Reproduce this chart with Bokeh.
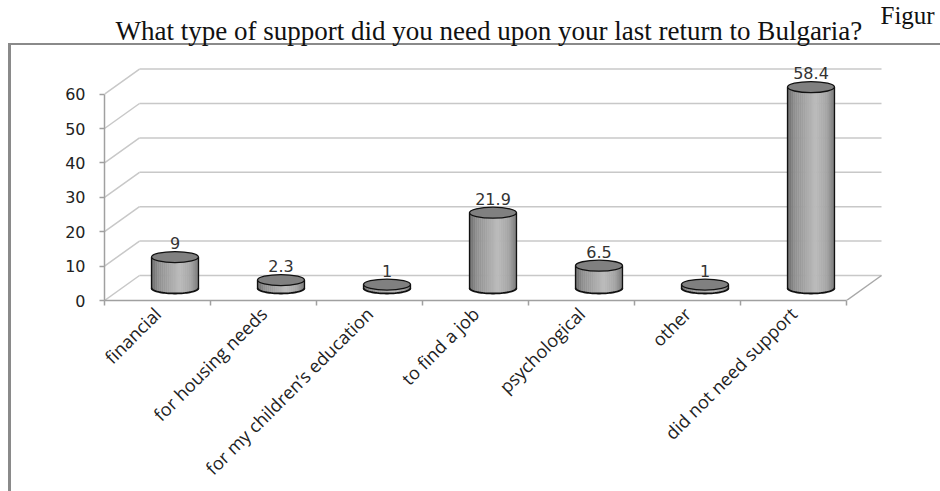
import numpy as np
from bokeh.plotting import figure
from bokeh.models import Range1d, FixedTicker
from bokeh.embed import file_html
from bokeh.resources import INLINE
from bokeh.core.properties import value

# ---------------- data ----------------
title_text = "What type of support did you need upon your last return to Bulgaria?"
corner_text = "Figur"
categories = ["financial", "for housing needs", "for my children\u2019s education",
              "to find a job", "psychological", "other", "did not need support"]
values = [9, 2.3, 1, 21.9, 6.5, 1, 58.4]
value_labels = ["9", "2.3", "1", "21.9", "6.5", "1", "58.4"]
y_ticks = [0, 10, 20, 30, 40, 50, 60]

# ---------------- geometry (pixels -> data units) ----------------
W, H = 940, 491
PX_X = 106.0          # pixels per category
PX_Y = 3.44           # pixels per value unit
FRAME_L, FRAME_R, FRAME_T, FRAME_B = 104, 940, 0, 300
x_end = (FRAME_R - FRAME_L) / PX_X
y_end = (FRAME_B - FRAME_T) / PX_Y
DX = 35 / PX_X        # depth offset (x)
DY = 25 / PX_Y        # depth offset (y)
n = len(categories)


def px_x(px):
    return (px - FRAME_L) / PX_X


def px_y(py):
    return (FRAME_B - py) / PX_Y


p = figure(width=W, height=H, output_backend="svg", toolbar_location=None, title=None,
           x_range=Range1d(0, x_end), y_range=Range1d(0, y_end),
           min_border_left=FRAME_L, min_border_right=W - FRAME_R,
           min_border_top=FRAME_T, min_border_bottom=H - FRAME_B)
p.outline_line_color = None
p.xgrid.visible = False
p.ygrid.visible = False
p.background_fill_alpha = 0.0
p.border_fill_alpha = 0.0

# outer chart frame (left / top edges) drawn behind the transparent canvas
p.styles = {
    "background-color": "white",
    "background-image": "linear-gradient(#8a8a8a, #8a8a8a), linear-gradient(#8a8a8a, #8a8a8a)",
    "background-size": "3px 460px, 940px 2px",
    "background-position": "8px 43px, 8px 43px",
    "background-repeat": "no-repeat",
}

# title and corner caption
p.text(x=[px_x(115)], y=[px_y(30)], text=[title_text], text_align="left",
       text_baseline="middle", text_font=value("Liberation Serif"),
       text_font_size="27px", text_color="#111111")
p.text(x=[px_x(880)], y=[px_y(15)], text=[corner_text], text_align="left",
       text_baseline="middle", text_font=value("Liberation Serif"),
       text_font_size="25px", text_color="#111111")

# ---------------- pseudo-3D walls ----------------
grid_col = "#c8c8c8"
gy = np.array(y_ticks, dtype=float)
p.segment(x0=np.full(len(gy), DX), y0=gy + DY, x1=np.full(len(gy), n + DX), y1=gy + DY,
          line_color=grid_col, line_width=1.5)
p.segment(x0=np.zeros(len(gy)), y0=gy, x1=np.full(len(gy), DX), y1=gy + DY,
          line_color=grid_col, line_width=1.5)
p.segment(x0=[n], y0=[0], x1=[n + DX], y1=[DY], line_color="#a8a8a8", line_width=1.5)

# ---------------- cylinders ----------------
vals = np.array(values, dtype=float)
cx = np.arange(n) + 0.5 + DX / 2
base = DY / 2
tops = vals + base
cw = 47 / PX_X
eh = 11 / PX_Y

NS = 24
prof_t = [0.0, 0.15, 0.6, 0.85, 1.0]
prof_b = [105, 145, 188, 165, 122]
L, R, B, T, C = [], [], [], [], []
for i in range(n):
    for j in range(NS):
        t0, t1 = j / NS, (j + 1) / NS
        tc = (t0 + t1) / 2
        u = 2 * tc - 1
        b = int(np.interp(tc, prof_t, prof_b))
        L.append(cx[i] - cw / 2 + t0 * cw)
        R.append(cx[i] - cw / 2 + t1 * cw)
        B.append(base - (eh / 2) * np.sqrt(max(0.0, 1 - u * u)))
        T.append(tops[i])
        C.append("#%02x%02x%02x" % (b, b, b))
p.quad(left=L, right=R, bottom=B, top=T, fill_color=C, line_color=C, line_width=0.6)

p.segment(x0=cx - cw / 2, y0=np.full(n, base), x1=cx - cw / 2, y1=tops,
          line_color="#111111", line_width=1.3)
p.segment(x0=cx + cw / 2, y0=np.full(n, base), x1=cx + cw / 2, y1=tops,
          line_color="#111111", line_width=1.3)
ang = np.linspace(np.pi, 2 * np.pi, 40)
xs = [list(c + (cw / 2) * np.cos(ang)) for c in cx]
ys = [list(base + (eh / 2) * np.sin(ang)) for _ in cx]
p.multi_line(xs=xs, ys=ys, line_color="#111111", line_width=1.8)
p.ellipse(x=cx, y=tops, width=cw, height=eh, fill_color="#808080",
          line_color="#111111", line_width=1.3)

p.text(x=cx, y=tops, text=value_labels, text_align="center", text_baseline="bottom",
       y_offset=-8, text_font=value("DejaVu Sans"), text_font_size="16px",
       text_color="#333333")

# ---------------- axes ----------------
xa = p.xaxis[0]
xa.ticker = FixedTicker(ticks=[i + 0.5 for i in range(n)], minor_ticks=list(range(n + 1)))
xa.major_label_overrides = {i + 0.5: c for i, c in enumerate(categories)}
xa.bounds = (0, n)
xa.axis_line_color = "#a0a0a0"
xa.axis_line_width = 1.5
xa.major_tick_line_color = None
xa.minor_tick_line_color = "#a0a0a0"
xa.minor_tick_line_width = 1.5
xa.minor_tick_in = 0
xa.minor_tick_out = 5
xa.major_label_orientation = np.pi / 4
xa.major_label_text_font = "Open Sans"
xa.major_label_text_font_size = "18px"
xa.major_label_text_color = "#222222"
xa.major_label_standoff = 4

ya = p.yaxis[0]
ya.ticker = FixedTicker(ticks=y_ticks, minor_ticks=[])
ya.bounds = (0, 60)
ya.axis_line_color = "#a0a0a0"
ya.axis_line_width = 1.5
ya.major_tick_line_color = "#a0a0a0"
ya.major_tick_line_width = 1.5
ya.major_tick_in = 0
ya.major_tick_out = 5
ya.minor_tick_line_color = None
ya.major_label_text_font = "DejaVu Sans"
ya.major_label_text_font_size = "16px"
ya.major_label_text_color = "#222222"
ya.major_label_standoff = 14

open("out.html", "w").write(file_html(p, INLINE))
